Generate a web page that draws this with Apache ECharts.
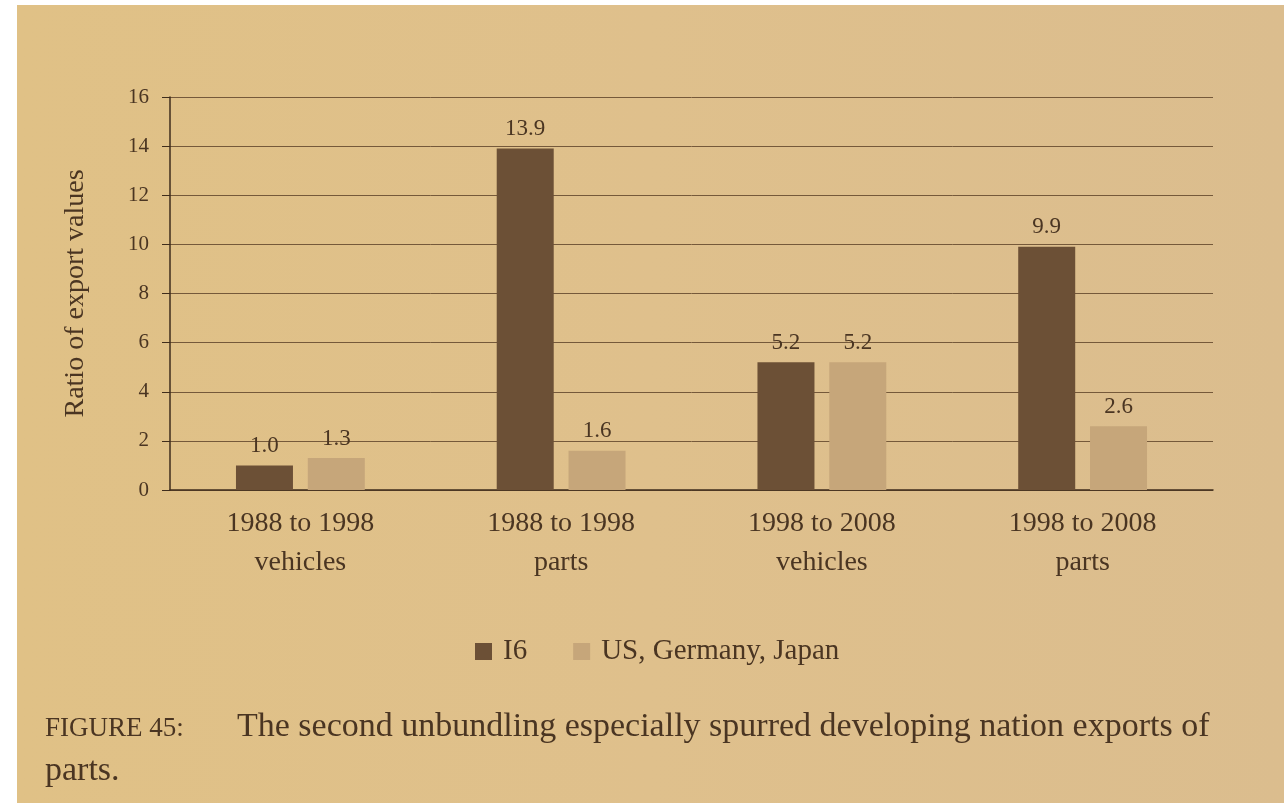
<!DOCTYPE html>
<html>
<head>
<meta charset="utf-8">
<script src="https://cdn.jsdelivr.net/npm/echarts@6/dist/echarts.min.js"></script>
<style>
  html, body { margin: 0; padding: 0; background: #fff; }
  #page {
    position: absolute; left: 17px; top: 5px; right: 2px; bottom: 0;
    background: linear-gradient(90deg, #e0c186 0%, #dfc08c 50%, #dbbd8e 100%);
  }
  #chart { position: absolute; left: 0; top: 0; width: 1286px; height: 803px; }
</style>
</head>
<body>
<div id="page"></div>
<div id="chart"></div>
<script>
// data
const categories = ['1988 to 1998\nvehicles', '1988 to 1998\nparts', '1998 to 2008\nvehicles', '1998 to 2008\nparts'];
const i6Values = [1.0, 13.9, 5.2, 9.9];
const advancedValues = [1.3, 1.6, 5.2, 2.6];
const seriesNames = ['I6', 'US, Germany, Japan'];
const yTicks = [0, 2, 4, 6, 8, 10, 12, 14, 16];

const ink = '#4a3522';
const serif = '"Liberation Serif", "DejaVu Serif", serif';

const chart = echarts.init(document.getElementById('chart'));

const barLabel = {
  show: true,
  position: 'top',
  distance: 8,
  color: ink,
  fontFamily: serif,
  fontSize: 23,
  formatter: p => p.value.toFixed(1)
};

chart.setOption({
  backgroundColor: 'transparent',
  animation: false,
  textStyle: { fontFamily: serif, color: ink },
  title: {
    left: 40,
    top: 700,
    text: '{a|FIGURE 45:}{b|The second unbundling especially spurred developing nation exports of}\n{b|parts.}',
    textStyle: {
      rich: {
        a: { fontFamily: serif, fontSize: 27, fontWeight: 'normal', color: ink, lineHeight: 44, width: 192, padding: [3, 0, 0, 0] },
        b: { fontFamily: serif, fontSize: 34, fontWeight: 'normal', color: ink, lineHeight: 44 }
      }
    }
  },
  legend: {
    left: 470,
    top: 632,
    itemWidth: 17,
    itemHeight: 17,
    itemGap: 46,
    icon: 'rect',
    textStyle: { fontFamily: serif, fontSize: 29, color: ink, padding: [0, 0, 0, 6] },
    data: seriesNames
  },
  grid: { left: 170, right: 73, top: 97, bottom: 313 },
  xAxis: {
    type: 'category',
    data: categories,
    axisLine: { lineStyle: { color: '#3f2d1c', width: 1.5 } },
    axisTick: { show: false },
    axisLabel: {
      color: ink,
      fontFamily: serif,
      fontSize: 28,
      lineHeight: 39,
      margin: 14,
      interval: 0
    }
  },
  yAxis: {
    type: 'value',
    min: yTicks[0],
    max: yTicks[yTicks.length - 1],
    interval: 2,
    name: 'Ratio of export values',
    nameLocation: 'middle',
    nameGap: 80,
    nameTextStyle: { fontFamily: serif, fontSize: 28, color: ink },
    axisLine: { show: true, lineStyle: { color: '#3f2d1c', width: 1.5 } },
    axisTick: { show: true, length: 8, lineStyle: { color: '#3f2d1c' } },
    axisLabel: { color: ink, fontFamily: serif, fontSize: 21, margin: 21 },
    splitLine: { lineStyle: { color: '#75593a', width: 1 } }
  },
  series: [
    {
      name: seriesNames[0],
      type: 'bar',
      data: i6Values,
      barWidth: 57,
      barGap: '26%',
      itemStyle: { color: '#6c5036' },
      label: barLabel
    },
    {
      name: seriesNames[1],
      type: 'bar',
      data: advancedValues,
      barWidth: 57,
      itemStyle: { color: '#c6a67a' },
      label: barLabel
    }
  ]
});
</script>
</body>
</html>
